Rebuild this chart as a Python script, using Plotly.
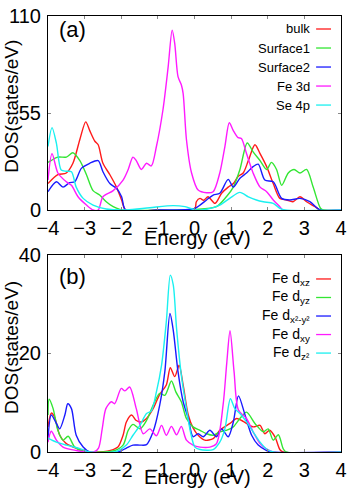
import plotly.graph_objects as go

# ---- panel (a): total / surface DOS ----
e_bulk = [-4.0, -3.73, -3.5, -3.32, -3.13, -2.97, -2.86, -2.72, -2.63, -2.5, -2.31, -2.13, -1.99, -1.88,
          -1.0, 0.0, 0.05, 0.15, 0.25, 0.37, 0.56, 0.74, 0.92, 1.06, 1.19, 1.33, 1.47, 1.65, 1.79, 1.97,
          2.15, 2.33, 2.51, 2.69, 2.88, 3.06, 3.29, 3.44, 4.0]
bulk = [15, 20, 21, 26.5, 40, 50, 45, 39, 37, 26.5, 20, 13, 5.7, 0,
        0, 0, 4.7, 6.6, 5.5, 7.5, 3.8, 9.5, 13, 15, 19, 21, 28, 37, 32, 24.6,
        15, 6.6, 5.7, 4.7, 7.5, 4.7, 1.9, 0, 0]

e_s1 = [-4.0, -3.73, -3.5, -3.32, -3.13, -2.95, -2.77, -2.59, -2.41, -2.22, -2.04, -1.9,
        0.0, 0.6, 0.87, 1.06, 1.24, 1.44, 1.6, 1.79, 1.97, 2.1, 2.24, 2.38, 2.56, 2.72, 2.88,
        3.06, 3.24, 3.44, 3.52, 4.0]
s1 = [27, 30, 30, 32.5, 28, 20, 11, 8.5, 4.7, 1.9, 0.4, 0,
      0.3, 1.9, 7.5, 13, 23, 38, 33, 28, 23, 27, 23, 14, 21, 23, 21,
      23, 13, 1, 0, 0]

e_s2 = [-4.0, -3.77, -3.59, -3.41, -3.27, -3.09, -2.86, -2.63, -2.5, -2.31, -2.13, -1.99, -1.88,
        -1.0, 0.0, 0.15, 0.33, 0.51, 0.69, 0.92, 1.06, 1.24, 1.42, 1.6, 1.74, 1.92, 2.15, 2.38,
        2.6, 2.88, 3.15, 3.43, 4.0]
s2 = [10.4, 16, 13, 15.5, 16, 23.6, 26.5, 28, 21.7, 15, 12.3, 7.5, 0,
      0, 0.8, 2.8, 5.7, 8.5, 9.5, 17.4, 13, 18, 21, 24.6, 26, 17, 16, 6.6,
      5.7, 6.6, 4.7, 0, 0]

e_fe = [-4.0, -3.89, -3.73, -3.5, -3.36, -3.18, -2.95, -2.77, -2.63, -2.5, -2.22, -1.95, -1.81,
        -1.68, -1.59, -1.45, -1.31, -1.18, -1.04, -0.86, -0.72, -0.61, -0.54, -0.45, -0.36, -0.31,
        -0.22, -0.08, 0.1, 0.33, 0.51, 0.69, 0.83, 0.95, 1.06, 1.19, 1.28, 1.42, 1.6, 1.79, 1.97,
        2.15, 2.33, 2.42, 4.0]
fe3d = [17, 32, 21, 16, 14, 7.5, 2.8, 0, 0, 7.5, 11, 17, 23,
        30, 28, 23, 26.5, 25, 36, 57, 81, 102, 94.5, 75.6, 71, 66,
        40, 21, 11.3, 9.8, 10.4, 21, 36, 49.5, 45, 41, 40.6, 32, 21, 13, 10.4,
        5.7, 1.9, 0, 0]

e_se = [-4.0, -3.89, -3.77, -3.64, -3.5, -3.36, -3.23, -3.04, -2.77, -2.41, -1.86,
        -1.22, -0.58, -0.26, 0.04, 0.33, 0.69, 0.96, 1.24, 1.47, 1.69, 1.88, 2.15, 2.33, 2.47, 4.0]
se4p = [36, 46.7, 37.8, 22.7, 22, 21.7, 13, 6.6, 2.8, 0.6, 0,
        1.3, 2.5, 1.9, 0, 0.4, 2.8, 6.6, 10, 7.5, 5.7, 4.7, 3.8, 1, 0, 0]

# ---- panel (b): Fe d orbitals ----
e_xz = [-4.0, -3.91, -3.82, -3.68, -3.5, -3.13, -2.95, -2.59, -2.22, -2.09, -1.95, -1.86, -1.72,
        -1.59, -1.45, -1.31, -1.13, -0.95, -0.77, -0.66, -0.54, -0.42, -0.31, -0.17, -0.04, 0.1,
        0.28, 0.51, 0.69, 0.97, 1.15, 1.33, 1.6, 1.79, 1.92, 2.05, 2.2, 2.33, 2.42, 4.0]
dxz = [5.1, 7.9, 7.1, 3.4, 1.7, 0.5, 0, 0, 0.5, 1, 3.4, 6.1, 7.5,
       6.4, 6.1, 6.8, 8.8, 11.7, 13.6, 17.1, 15.3, 17.6, 13.6, 7.5, 4.9, 3.4,
       2.4, 2.7, 4.4, 5.8, 6.8, 6.2, 5.1, 5.4, 3.7, 4.4, 3, 0.5, 0, 0]

e_yz = [-4.0, -3.97, -3.86, -3.73, -3.59, -3.45, -3.27, -3.04, -2.5, -2.22, -1.95, -1.81, -1.68,
        -1.49, -1.31, -1.13, -0.95, -0.81, -0.63, -0.51, -0.36, -0.22, -0.04, 0.15, 0.33, 0.51,
        0.69, 0.87, 1.06, 1.24, 1.42, 1.65, 1.88, 2.01, 2.15, 2.29, 2.42, 2.5, 4.0]
dyz = [7.5, 10.7, 8.8, 4.4, 2.4, 3.2, 1, 0.1, 0, 0.2, 1.4, 4.4, 5.6,
       4.7, 6.4, 9.5, 11.9, 11.5, 14.4, 12.2, 10.2, 6.8, 5.1, 4.4, 3.7, 3.4,
       4.1, 4.4, 5.1, 6.8, 8.1, 5.8, 4.1, 4.7, 2.4, 3.5, 0.7, 0, 0]

e_x2y2 = [-4.0, -3.91, -3.77, -3.68, -3.54, -3.46, -3.36, -3.23, -3.04, -2.86, -2.09, -1.86, -1.68,
          -1.49, -1.31, -1.13, -0.95, -0.81, -0.67, -0.58, -0.45, -0.31, -0.17, -0.04, 0.1, 0.24,
          0.42, 0.6, 0.74, 0.92, 1.06, 1.2, 1.38, 1.56, 1.74, 1.97, 2.1, 4.0]
dx2y2 = [2.7, 7.5, 5.8, 4.7, 7.5, 9.8, 8.8, 3.4, 1, 0, 0, 0.8, 1.4,
         1.4, 1.5, 4.1, 9.5, 16.3, 28.1, 24.7, 16.3, 10.2, 6.8, 3.1, 3.7, 3.1,
         4.4, 3.1, 4.7, 3.1, 6.1, 11.4, 7.5, 3.4, 1.4, 0.3, 0, 0]

e_xy = [-4.0, -3.91, -3.77, -3.59, -3.23, -2.95, -2.75, -2.62, -2.52, -2.42, -2.27, -2.18, -2.0,
        -1.9, -1.77, -1.59, -1.4, -1.22, -1.04, -0.9, -0.77, -0.63, -0.49, -0.36, -0.22, -0.04,
        0.15, 0.42, 0.6, 0.78, 0.88, 0.97, 1.08, 1.2, 1.42, 1.6, 1.79, 1.97, 2.15, 4.0]
dxy = [2, 4.2, 2.4, 1, 0.3, 0, 0, 0.8, 4.7, 8.8, 10.2, 9.8, 12.9,
       12.4, 13.2, 8.8, 3.7, 4.7, 3.3, 5.4, 3.4, 5.2, 3.5, 5.2, 2.4, 1.4,
       1, 1, 1.7, 9.5, 18, 24.6, 16.3, 8.5, 6.8, 4.1, 1.7, 0.6, 0, 0]

e_z2 = [-4.0, -3.77, -3.5, -3.13, -2.86, -2.13, -1.86, -1.68, -1.49, -1.31, -1.18, -1.04, -0.9,
        -0.77, -0.66, -0.58, -0.49, -0.36, -0.22, -0.11, 0.01, 0.15, 0.51, 0.69, 0.83, 0.98,
        1.1, 1.24, 1.42, 1.6, 1.79, 1.97, 2.15, 4.0]
dz2 = [2.8, 2, 1.4, 0.7, 0, 0.1, 1.4, 3.4, 5.4, 7.8, 8.3, 12.2, 17.6,
       26.4, 35.9, 33.9, 25.1, 15.6, 8.8, 4.1, 1, 0.5, 0.5, 2, 4.7, 10.8,
       8.8, 7.8, 6.1, 4.1, 2, 0.6, 0, 0]

colors = ['#ff1a1a', '#33e633', '#1a1aff', '#ff1aff', '#1af0f0']
names_a = ['bulk', 'Surface1', 'Surface2', 'Fe 3d', 'Se 4p']
names_b = ['Fe d<sub>xz</sub>', 'Fe d<sub>yz</sub>', 'Fe d<sub>x²-y²</sub>',
           'Fe d<sub>xy</sub>', 'Fe d<sub>z²</sub>']
series_a = [(e_bulk, bulk), (e_s1, s1), (e_s2, s2), (e_fe, fe3d), (e_se, se4p)]
series_b = [(e_xz, dxz), (e_yz, dyz), (e_x2y2, dx2y2), (e_xy, dxy), (e_z2, dz2)]

fig = go.Figure()
for (x, y), c in zip(series_a, colors):
    fig.add_trace(go.Scatter(x=x, y=y, mode='lines', line=dict(color=c, width=1.4, shape='spline', smoothing=0.8),
                             xaxis='x', yaxis='y', showlegend=False))
for (x, y), c in zip(series_b, colors):
    fig.add_trace(go.Scatter(x=x, y=y, mode='lines', line=dict(color=c, width=1.4, shape='spline', smoothing=0.8),
                             xaxis='x2', yaxis='y2', showlegend=False))

font = 'Liberation Sans, Arial, sans-serif'
ax = dict(range=[-4, 4], tickvals=[-4, -3, -2, -1, 0, 1, 2, 3, 4], showline=True, linecolor='black',
          linewidth=1, mirror='ticks', ticks='inside', ticklen=3, tickcolor='#888', showgrid=False,
          zeroline=False, tickfont=dict(size=20, color='black', family=font), ticklabelstandoff=0,
          automargin=False, ticklabeloverflow='allow')
ay = dict(showline=True, linecolor='black', linewidth=1, mirror='ticks', ticks='inside', ticklen=3,
          tickcolor='#888', showgrid=False, zeroline=False,
          tickfont=dict(size=20, color='black', family=font), ticklabelstandoff=2, automargin=False,
          ticklabeloverflow='allow')

fig.update_layout(
    width=361, height=491,
    margin=dict(l=48, r=20, t=16, b=39),
    plot_bgcolor='white', paper_bgcolor='white',
    xaxis=dict(ax, domain=[0, 1], anchor='y'),
    yaxis=dict(ay, domain=[0.555, 1], range=[0, 110], tickvals=[0, 55, 110], anchor='x'),
    xaxis2=dict(ax, domain=[0, 1], anchor='y2'),
    yaxis2=dict(ay, domain=[0, 0.452], range=[0, 40], tickvals=[0, 20, 40], anchor='x2'),
)

ann = []
shapes = []
# legends: text right-aligned, line sample on the right
for i, (n, c) in enumerate(zip(names_a, colors)):
    yy = 0.933 - i * 0.098
    ann.append(dict(text=n, xref='x domain', yref='y domain', x=0.901, y=yy, xanchor='right',
                    yanchor='middle', showarrow=False, font=dict(size=13, family=font, color='black')))
    shapes.append(dict(type='line', xref='x domain', yref='y domain', x0=0.915, x1=0.966, y0=yy, y1=yy,
                       line=dict(color=c, width=1.3)))
for i, (n, c) in enumerate(zip(names_b, colors)):
    yy = 0.878 - i * 0.094
    ann.append(dict(text=n, xref='x2 domain', yref='y2 domain', x=0.901, y=yy, xanchor='right',
                    yanchor='middle', showarrow=False, font=dict(size=14, family=font, color='black')))
    shapes.append(dict(type='line', xref='x2 domain', yref='y2 domain', x0=0.915, x1=0.966, y0=yy, y1=yy,
                       line=dict(color=c, width=1.3)))

# panel labels
ann.append(dict(text='(a)', xref='x domain', yref='y domain', x=0.03, y=0.93, xanchor='left', yanchor='middle',
                showarrow=False, font=dict(size=22, family=font, color='black')))
ann.append(dict(text='(b)', xref='x2 domain', yref='y2 domain', x=0.03, y=0.89, xanchor='left', yanchor='middle',
                showarrow=False, font=dict(size=22, family=font, color='black')))

# axis titles
for yy in [0.491, -0.058]:
    ann.append(dict(text='Energy (eV)', xref='paper', yref='paper', x=0.51, y=yy, xanchor='center',
                    yanchor='middle', showarrow=False, font=dict(size=20, family=font, color='black')))
for yy in [0.794, 0.241]:
    ann.append(dict(text='DOS(states/eV)', xref='paper', yref='paper', x=-0.123, y=yy, xanchor='center',
                    yanchor='middle', textangle=-90, showarrow=False,
                    font=dict(size=19, family=font, color='black')))

fig.update_layout(annotations=ann, shapes=shapes)
# drop the default page margin so the figure sits at the window corner
fig.write_html("out.html", config={'displayModeBar': False},
               post_script="document.body.style.margin='0';")
